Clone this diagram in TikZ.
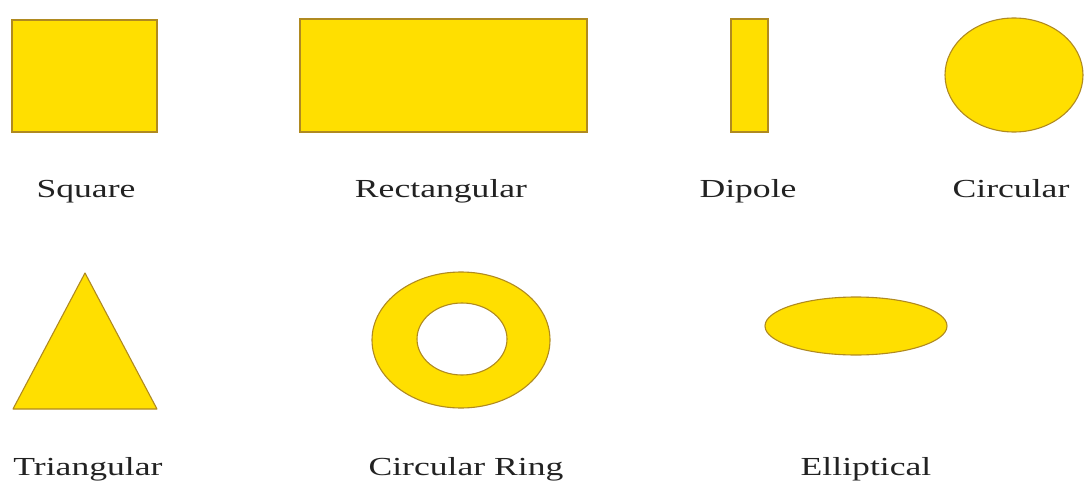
\documentclass[tikz,border=0pt]{standalone}
\usepackage{fontspec}
\newfontfamily\lblfont[FakeStretch=1.37]{Liberation Serif}
\usetikzlibrary{shapes.geometric}
\definecolor{padfill}{HTML}{FFDF00}
\definecolor{padedge}{HTML}{B08A20}
\definecolor{txt}{HTML}{222222}
\tikzset{
  pad/.style={fill=padfill, draw=padedge, line width=1.1pt},
  rectpad/.style={pad, rectangle, inner sep=0pt},
  ellpad/.style={pad, ellipse, inner sep=0pt},
  lbl/.style={anchor=base, text=txt, inner sep=0pt, font=\lblfont\fontsize{26}{30}\selectfont}
}
\begin{document}
\begin{tikzpicture}[x=1pt,y=-1pt]
\useasboundingbox (0,0) rectangle (1084,484);
% row 1
\node[rectpad, minimum width=145pt, minimum height=112pt] (square) at (84.5,76) {};
\node[rectpad, minimum width=287pt, minimum height=113pt] (rect) at (443.5,75.5) {};
\node[rectpad, minimum width=37pt, minimum height=113pt] (dipole) at (749.5,75.5) {};
\node[ellpad, minimum width=138pt, minimum height=114pt] (circ) at (1014,75) {};
\node[lbl] (lsquare) at (86,197) {Square};
\node[lbl] (lrect) at (441,197) {Rectangular};
\node[lbl] (ldipole) at (748,197) {Dipole};
\node[lbl] (lcirc) at (1011,197) {Circular};
% row 2
\draw[pad, line join=round] (85,273) coordinate (tA) -- (157,409) coordinate (tB) -- (13,409) coordinate (tC) -- cycle;
\fill[padfill, even odd rule] (461,340) ellipse [x radius=89pt, y radius=68pt]
                              (462,339) ellipse [x radius=45pt, y radius=36pt];
\draw[padedge, line width=1.1pt] (461,340) ellipse [x radius=89pt, y radius=68pt];
\draw[padedge, line width=1.1pt] (462,339) ellipse [x radius=45pt, y radius=36pt];
\node[ellpad, minimum width=182pt, minimum height=58pt] (ellip) at (856,326) {};
\node[lbl] (ltri) at (88,475) {Triangular};
\node[lbl] (lring) at (466,475) {Circular Ring};
\node[lbl] (lellip) at (866,475) {Elliptical};
\end{tikzpicture}
\end{document}
